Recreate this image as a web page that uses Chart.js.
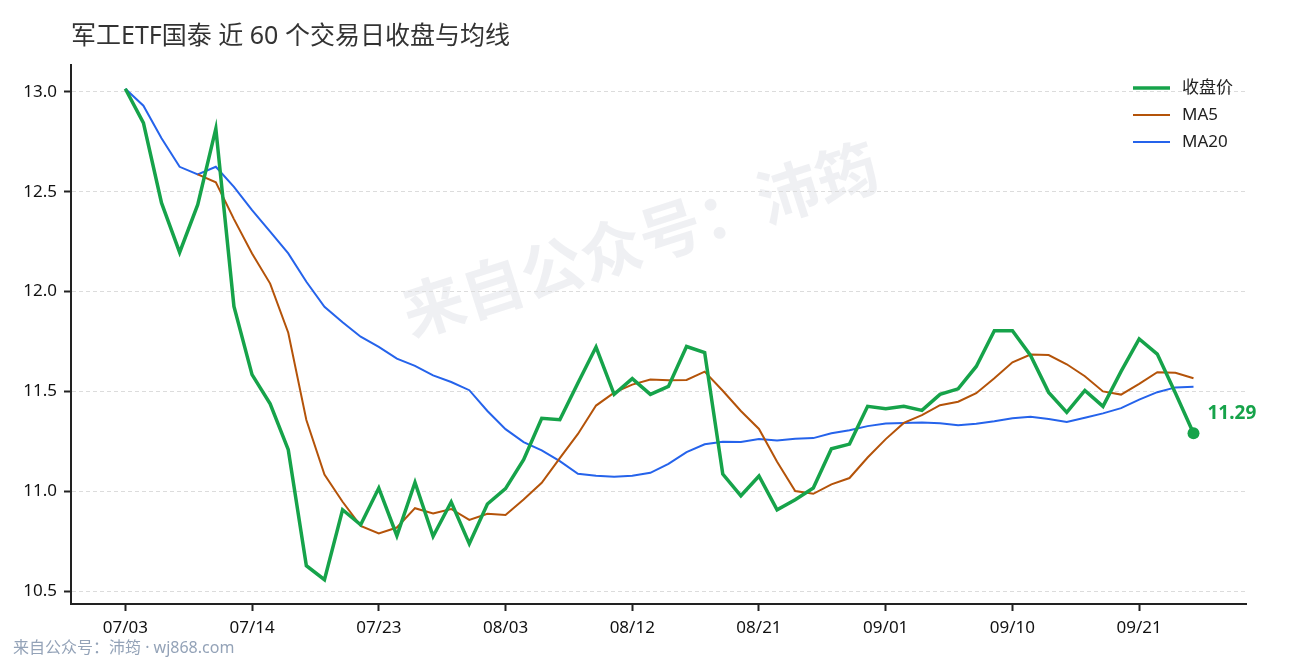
<!DOCTYPE html>
<html>
<head>
<meta charset="utf-8">
<script src="https://cdn.jsdelivr.net/npm/chart.js@4.4.1/dist/chart.umd.min.js"></script>
<style>
  html, body { margin: 0; padding: 0; background: #fff; }
  #wrap { width: 1290px; height: 660px; position: relative; }
</style>
</head>
<body>
<div id="wrap"><canvas id="chart"></canvas></div>
<script>
// dates of the 60 trading days
const dates = [
  "07/03", "07/04", "07/07", "07/08", "07/09", "07/10", "07/11", "07/14",
  "07/15", "07/16", "07/17", "07/18", "07/21", "07/22", "07/23",
  "07/24", "07/25", "07/28", "07/29", "07/30", "07/31", "08/03",
  "08/04", "08/05", "08/06", "08/07", "08/08", "08/11", "08/12",
  "08/13", "08/14", "08/15", "08/18", "08/19", "08/20", "08/21",
  "08/22", "08/25", "08/26", "08/27", "08/28", "08/29", "09/01",
  "09/02", "09/03", "09/04", "09/05", "09/08", "09/09", "09/10",
  "09/11", "09/12", "09/15", "09/16", "09/17", "09/18", "09/21",
  "09/22", "09/23", "09/24",
];

// closing price
const close = [
  13.016, 12.845, 12.444, 12.196, 12.435, 12.816, 11.926, 11.584, 11.438, 11.208,
  10.627, 10.557, 10.907, 10.832, 11.016, 10.777, 11.044, 10.774, 10.946, 10.737,
  10.936, 11.013, 11.158, 11.365, 11.358, 11.542, 11.722, 11.485, 11.564, 11.485,
  11.525, 11.725, 11.695, 11.086, 10.977, 11.076, 10.907, 10.957, 11.016, 11.213,
  11.236, 11.425, 11.413, 11.425, 11.405, 11.485, 11.513, 11.625, 11.804, 11.804,
  11.68, 11.495, 11.395, 11.505, 11.425, 11.6, 11.763, 11.687, 11.492, 11.29,
];

// 5 day moving average (empty for the first 4 days)
const ma5 = [
  null, null, null, null, 12.587, 12.547, 12.363, 12.191, 12.040, 11.794,
  11.357, 11.083, 10.947, 10.826, 10.788, 10.818, 10.915, 10.889, 10.911, 10.856,
  10.887, 10.881, 10.958, 11.042, 11.166, 11.287, 11.429, 11.494, 11.534, 11.560,
  11.556, 11.557, 11.599, 11.503, 11.402, 11.312, 11.148, 11.001, 10.987, 11.034,
  11.066, 11.169, 11.261, 11.342, 11.381, 11.431, 11.448, 11.491, 11.566, 11.646,
  11.685, 11.682, 11.636, 11.576, 11.500, 11.484, 11.538, 11.596, 11.593, 11.566,
];

// 20 day moving average
const ma20 = [
  13.016, 12.931, 12.768, 12.625, 12.587, 12.625, 12.525, 12.408, 12.300, 12.191,
  12.049, 11.924, 11.846, 11.774, 11.723, 11.664, 11.628, 11.580, 11.547, 11.506,
  11.402, 11.311, 11.246, 11.205, 11.151, 11.087, 11.077, 11.072, 11.078, 11.092,
  11.137, 11.196, 11.235, 11.248, 11.246, 11.261, 11.254, 11.263, 11.266, 11.290,
  11.305, 11.326, 11.339, 11.342, 11.344, 11.341, 11.331, 11.338, 11.350, 11.366,
  11.373, 11.362, 11.347, 11.368, 11.390, 11.416, 11.459, 11.496, 11.520, 11.523,
];

const xTicks = [0, 7, 14, 21, 28, 35, 42, 49, 56];
const yTicks = [10.5, 11.0, 11.5, 12.0, 12.5, 13.0];

const seriesNames = ["收盘价", "MA5", "MA20"];
const seriesColors = ["#16a34a", "#b45309", "#2563eb"];
const seriesWidths = [3.5, 2, 2];

const titleText = "军工ETF国泰 近 60 个交易日收盘与均线";
const watermarkText = "来自公众号：沛筠";
const footerText = "来自公众号：沛筠 · wj868.com";

const FONT = '"Noto Sans", "Noto Sans CJK SC", sans-serif';

function points(values) {
  return values.map((v, i) => ({ x: i, y: v }));
}

// title, watermark, legend, end label, footer
const decor = {
  id: "decor",
  beforeDraw(chart) {
    const ctx = chart.ctx;
    ctx.save();
    ctx.fillStyle = "#fff";
    ctx.fillRect(0, 0, chart.width, chart.height);

    ctx.translate(642, 245);
    ctx.rotate(-17.8 * Math.PI / 180);
    ctx.font = "bold 62px " + FONT;
    ctx.fillStyle = "rgba(180, 186, 200, 0.22)";
    ctx.textAlign = "center";
    ctx.textBaseline = "middle";
    ctx.fillText(watermarkText, 0, 0);
    ctx.restore();
  },
  afterDraw(chart) {
    const ctx = chart.ctx;
    const area = chart.chartArea;
    ctx.save();

    // title
    ctx.font = "25px " + FONT;
    ctx.fillStyle = "#333";
    ctx.textAlign = "left";
    ctx.textBaseline = "middle";
    ctx.fillText(titleText, area.left, 37);

    // legend
    ctx.font = "17px " + FONT;
    seriesNames.forEach((name, i) => {
      const y = 88 + i * 27;
      ctx.strokeStyle = seriesColors[i];
      ctx.lineWidth = seriesWidths[i];
      ctx.beginPath();
      ctx.moveTo(1133, y);
      ctx.lineTo(1170, y);
      ctx.stroke();
      ctx.fillStyle = "#222";
      ctx.fillText(name, 1182, y);
    });

    // last close label
    const meta = chart.getDatasetMeta(0);
    const last = meta.data[meta.data.length - 1];
    ctx.font = "bold 19px " + FONT;
    ctx.fillStyle = seriesColors[0];
    ctx.fillText(close[close.length - 1].toFixed(2), last.x + 14, last.y - 20);

    // footer
    ctx.font = "16px " + FONT;
    ctx.fillStyle = "#94a3b8";
    ctx.fillText(footerText, 13, 648);
    ctx.restore();
  },
};

const ctx = document.getElementById("chart").getContext("2d");
new Chart(ctx, {
  type: "line",
  data: {
    datasets: [
      {
        label: seriesNames[0],
        data: points(close),
        borderColor: seriesColors[0],
        backgroundColor: seriesColors[0],
        borderWidth: seriesWidths[0],
        pointRadius: (c) => (c.dataIndex === close.length - 1 ? 6 : 0),
        pointBorderWidth: 0,
        tension: 0,
      },
      {
        label: seriesNames[1],
        data: points(ma5),
        borderColor: seriesColors[1],
        borderWidth: seriesWidths[1],
        pointRadius: 0,
        tension: 0,
      },
      {
        label: seriesNames[2],
        data: points(ma20),
        borderColor: seriesColors[2],
        borderWidth: seriesWidths[2],
        pointRadius: 0,
        tension: 0,
      },
    ],
  },
  options: {
    responsive: true,
    maintainAspectRatio: false,
    animation: false,
    layout: { padding: { top: 65, right: 44, bottom: 0, left: 0 } },
    plugins: {
      legend: { display: false },
      title: { display: false },
      tooltip: { enabled: false },
    },
    scales: {
      x: {
        type: "linear",
        min: -3,
        max: 61.9,
        afterBuildTicks: (scale) => {
          scale.ticks = xTicks.map((v) => ({ value: v }));
        },
        afterFit: (scale) => {
          scale.height = 56;
        },
        ticks: {
          autoSkip: false,
          maxRotation: 0,
          padding: 7,
          color: "#111",
          font: { family: FONT, size: 17 },
          callback: (value) => dates[value],
        },
        grid: {
          drawOnChartArea: false,
          tickLength: 7,
          tickColor: "#222",
          tickWidth: 2,
        },
        border: { color: "#222", width: 2 },
      },
      y: {
        min: 10.435,
        max: 13.135,
        afterBuildTicks: (scale) => {
          scale.ticks = yTicks.map((v) => ({ value: v }));
        },
        afterFit: (scale) => {
          scale.width = 71;
        },
        ticks: {
          padding: 7,
          color: "#111",
          font: { family: FONT, size: 17 },
          callback: (value) => value.toFixed(1),
        },
        grid: {
          color: "#dcdcdc",
          lineWidth: 1,
          tickLength: 7,
          tickColor: "#222",
          tickWidth: 2,
          tickBorderDash: [],
        },
        border: { color: "#222", width: 2, dash: [4, 3] },
      },
    },
  },
  plugins: [decor],
});
</script>
</body>
</html>
